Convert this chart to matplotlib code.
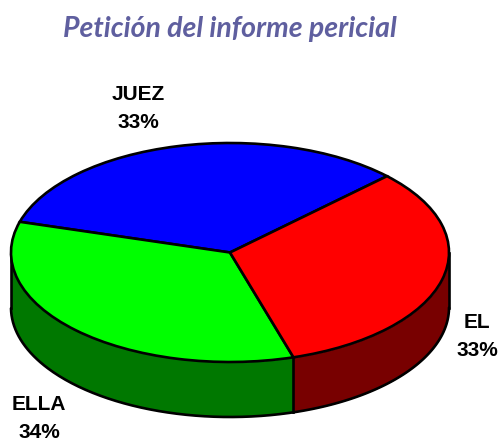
import numpy as np
import matplotlib
matplotlib.use('Agg')
import matplotlib.pyplot as plt

labels = ['JUEZ', 'ELLA', 'EL']
values = [33.2, 34.2, 32.6]
percent_labels = ['33%', '34%', '33%']
top_colors = ['#0000FF', '#00FF00', '#FF0000']
side_colors = ['#00007F', '#007800', '#780000']

W, H = 499, 441
CX, CY, RX, RY = 230, 252.5, 219, 109.5
DEPTH = 55 / RY
START = 44.2
LW = 1.9

fig = plt.figure(figsize=(W / 100, H / 100), dpi=100)
ax = fig.add_axes([0, 0, 1, 1])


def px(x, y):
    # picture pixels to pie units
    return (x - CX) / RX, (CY - y) / RY


# Side wall, one piece per slice, only the front half can be seen
angles = np.cumsum([0] + values) / sum(values) * 360 + START
for i in range(len(values)):
    a = np.radians(np.linspace(angles[i], angles[i + 1], 200))
    a = a[np.sin(a) <= 0]
    if len(a) == 0:
        continue
    x = np.cos(a)
    y = np.sin(a)
    ax.fill_between(x, y - DEPTH, y, color=side_colors[i], lw=0, zorder=1)
    ax.plot(x, y - DEPTH, color='black', lw=LW, zorder=2, solid_capstyle='round')

    # line at the edge of the slice when it falls on the front
    if np.sin(np.radians(angles[i + 1])) < 0 and i + 1 < len(values):
        xe = np.cos(np.radians(angles[i + 1]))
        ye = np.sin(np.radians(angles[i + 1]))
        ax.plot([xe, xe], [ye, ye - DEPTH], color='black', lw=LW, zorder=2)

# outer vertical edges
ax.plot([-1, -1], [0, -DEPTH], color='black', lw=LW, zorder=2)
ax.plot([1, 1], [0, -DEPTH], color='black', lw=LW, zorder=2)

wedges, _ = ax.pie(values, colors=top_colors, startangle=START, counterclock=True,
                   wedgeprops={'edgecolor': 'black', 'linewidth': LW})
for w in wedges:
    w.set_zorder(3)

ax.set_aspect('auto')
x0, _ = px(0, 0)
x1, _ = px(W, 0)
_, y0 = px(0, H)
_, y1 = px(0, 0)
ax.set_xlim(x0, x1)
ax.set_ylim(y0, y1)
ax.axis('off')

fig.text(229.5 / W, 1 - 29.5 / H, 'Petición del informe pericial', fontsize=20.5,
         family='Lato', weight='bold', style='italic', color='#5F5F9F',
         ha='center', va='center')

label_pos = {'JUEZ': (138, 94, 122), 'ELLA': (39, 405, 433), 'EL': (477, 322, 350)}
for name, pct in zip(labels, percent_labels):
    lx, y_name, y_pct = label_pos[name]
    for s, yy in ((name, y_name), (pct, y_pct)):
        fig.text(lx / W, 1 - yy / H, s, fontsize=15, family='Liberation Sans',
                 weight='bold', color='black', ha='center', va='center')

fig.savefig('out.png', dpi=100)
